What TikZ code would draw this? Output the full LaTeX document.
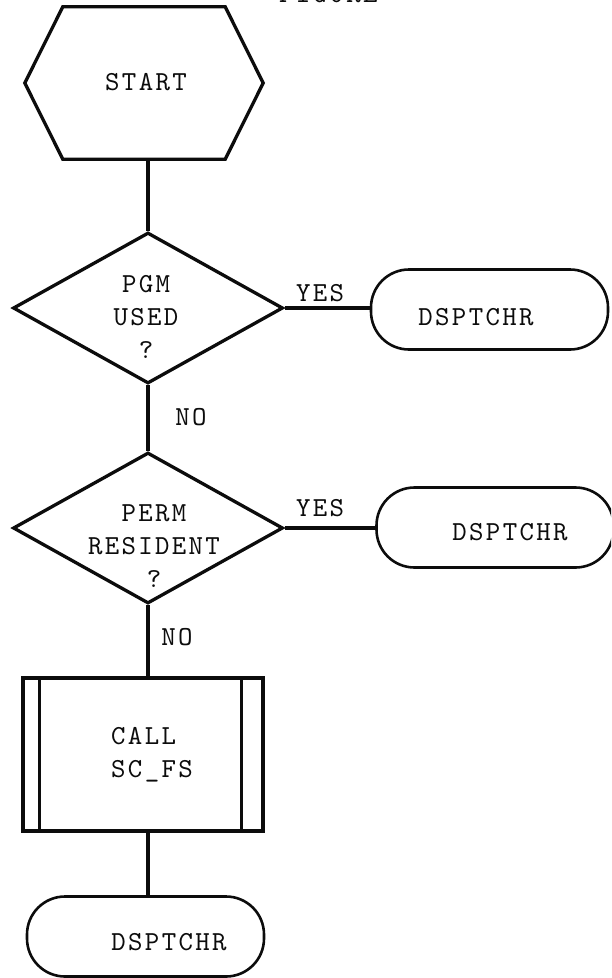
\documentclass[tikz,border=0pt]{standalone}
\usepackage{fontspec}
\usepackage{tikz}
\usetikzlibrary{positioning,shapes.geometric}
\newfontfamily\chartFont{lmmono10-regular}[Extension=.otf, LetterSpace=8.5]
\definecolor{inkColor}{RGB}{12,12,12}
\tikzstyle{chart} = [x = 1pt, y = -1pt, every node/.style={font=\chartFont\fontsize{27.5}{33}\selectfont}]
\tikzstyle{shapeLine} = [color=inkColor, line width=3.3pt, line join=miter]
\tikzstyle{flowLine} = [color=inkColor, line width=3.3pt]
\tikzstyle{hexStyle} = [minimum width=238pt, minimum height=152pt, inner sep=0pt]
\tikzstyle{decisionStyle} = [draw=inkColor, line width=3.3pt, diamond, minimum width=270pt, minimum height=151pt, inner sep=0pt]
\tikzstyle{terminalStyle} = [draw=inkColor, line width=2.6pt, rounded corners=38pt, minimum width=237pt, minimum height=80pt, inner sep=0pt]
\tikzstyle{callStyle} = [draw=inkColor, line width=3.3pt, minimum width=240pt, minimum height=153pt, inner sep=0pt]
\tikzstyle{chartText} = [inner sep=0pt, align=center, text=inkColor]
\newcommand{\hexInset}{38pt}
\newcommand{\terminalNode}[4]{\node [terminalStyle] (#1) at (#2) {}; \node [chartText] (#1Text) at (#3) {#4};}
\newcommand{\decisionNode}[4]{\node [decisionStyle] (#1) at (#2) {}; \node [chartText] (#1Text) at (#3) {#4};}

\begin{document}
\begin{tikzpicture}[chart]
  \useasboundingbox (0,0) rectangle (611,978);
  \clip (0,0) rectangle (611,978);

  % title, cut at the top edge
  \node [chartText, anchor=base west] (figTitle) at (279,2) {FIGURE};

  % start
  \node [hexStyle] (start) at (144,83) {};
  \draw [shapeLine] ([xshift=\hexInset]start.north west) -- ([xshift=-\hexInset]start.north east)
    -- (start.east) -- ([xshift=-\hexInset]start.south east)
    -- ([xshift=\hexInset]start.south west) -- (start.west) -- cycle;
  \node [chartText] (startText) at (146,82) {START};

  % decisions
  \decisionNode{pgmUsed}{148,308}{146,317}{PGM\\USED\\?}
  \decisionNode{permRes}{148,528}{154,546}{PERM\\RESIDENT\\?}

  % call box
  \node [callStyle] (callBox) at (143,754.5) {};
  \draw [shapeLine] ([xshift=18pt]callBox.north west) -- ([xshift=18pt]callBox.south west);
  \draw [shapeLine] ([xshift=-23pt]callBox.north east) -- ([xshift=-23pt]callBox.south east);
  \node [chartText, align=left] (callText) at (152,755) {CALL\\SC\_FS};

  % exits
  \terminalNode{dspOne}{489.5,309.5}{476,317}{DSPTCHR}
  \terminalNode{dspTwo}{495,527.5}{510,532}{DSPTCHR}
  \terminalNode{dspThree}{145.5,936.5}{169,942}{DSPTCHR}

  % connectors
  \draw [flowLine] (start.south -| pgmUsed.north) -- (pgmUsed.north);
  \draw [flowLine] (pgmUsed.east) -- (pgmUsed.east -| dspOne.west);
  \draw [flowLine] (pgmUsed.south) -- (permRes.north);
  \draw [flowLine] (permRes.east) -- (permRes.east -| dspTwo.west);
  \draw [flowLine] (permRes.south) -- (permRes.south |- callBox.north);
  \draw [flowLine] (callBox.south -| permRes.south) -- (dspThree.north -| permRes.south);

  \node [chartText] (yesOne) at (320,293) {YES};
  \node [chartText] (yesTwo) at (320,508) {YES};
  \node [chartText] (noOne) at (191,417) {NO};
  \node [chartText] (noTwo) at (177,637) {NO};
\end{tikzpicture}
\end{document}
